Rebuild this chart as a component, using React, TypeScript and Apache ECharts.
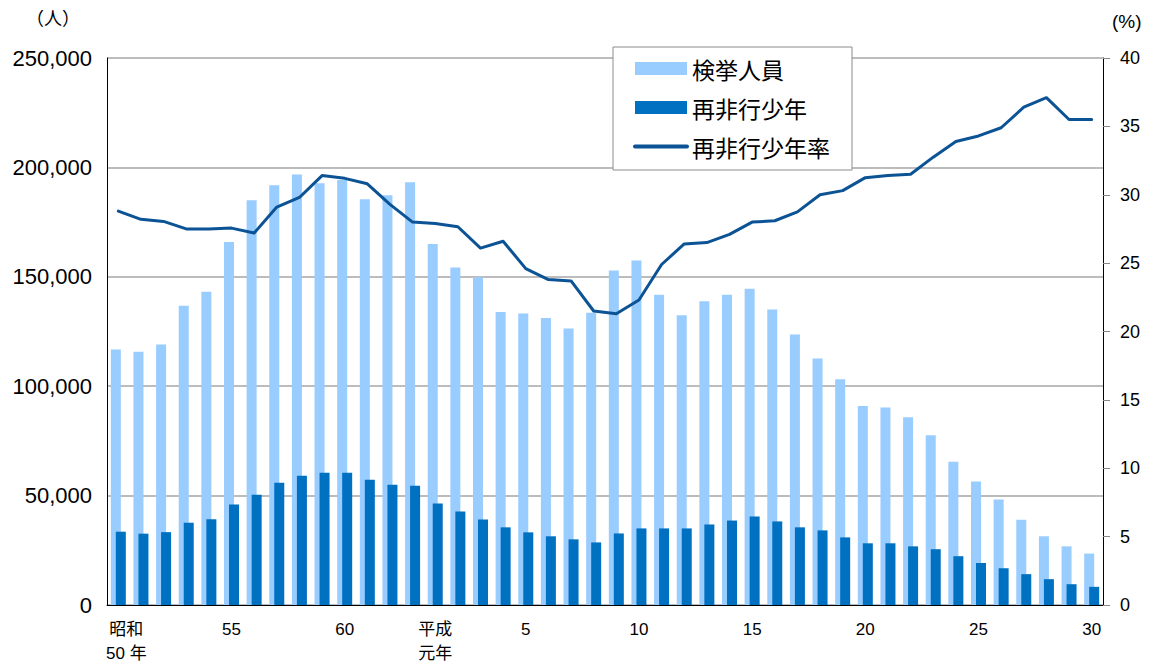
import React, { useEffect, useRef } from "react";
import * as echarts from "echarts";

const categories = [
  "S50", "S51", "S52", "S53", "S54", "S55", "S56", "S57", "S58", "S59", "S60", "S61", "S62", "S63",
  "H1", "H2", "H3", "H4", "H5", "H6", "H7", "H8", "H9", "H10", "H11", "H12", "H13", "H14", "H15",
  "H16", "H17", "H18", "H19", "H20", "H21", "H22", "H23", "H24", "H25", "H26", "H27", "H28", "H29", "H30",
];

const xLabels = [
  "昭和\n50 年", "", "", "", "", "55", "", "", "", "", "60", "", "", "",
  "平成\n元年", "", "", "", "5", "", "", "", "", "10", "", "", "", "", "15",
  "", "", "", "", "20", "", "", "", "", "25", "", "", "", "", "30",
];

const arrested = [
  116800, 115700, 119100, 136800, 143200, 165900, 185000, 191800, 196800, 192700,
  194200, 185400, 187300, 193200, 165000, 154200, 149800, 133900, 133200, 131200,
  126400, 133600, 152900, 157400, 141800, 132400, 138800, 141800, 144500, 135000,
  123600, 112700, 103200, 90900, 90300, 85800, 77600, 65500, 56400, 48200,
  39000, 31400, 26800, 23500,
];

const repeatOffenders = [
  33500, 32600, 33300, 37600, 39200, 45900, 50400, 55900, 59100, 60400,
  60400, 57300, 55000, 54500, 46400, 42700, 39100, 35500, 33200, 31400,
  30000, 28600, 32700, 35000, 35000, 35000, 36800, 38600, 40500, 38200,
  35500, 34100, 30900, 28200, 28200, 26800, 25500, 22300, 19200, 16800,
  14100, 11800, 9500, 8300,
];

const repeatRate = [
  28.8, 28.2, 28.05, 27.5, 27.5, 27.56, 27.2, 29.1, 29.8, 31.4,
  31.2, 30.8, 29.3, 28.0, 27.9, 27.66, 26.1, 26.6, 24.6, 23.8,
  23.7, 21.5, 21.3, 22.3, 24.9, 26.4, 26.5, 27.1, 28.0, 28.1,
  28.75, 30.0, 30.3, 31.25, 31.4, 31.5, 32.75, 33.9, 34.3, 34.9,
  36.4, 37.1, 35.5, 35.5,
];

const seriesNames = ["検挙人員", "再非行少年", "再非行少年率"];

const FONT = "'Liberation Sans', 'Noto Sans CJK JP', sans-serif";
const CJK = "'Noto Sans CJK JP', 'Liberation Sans', sans-serif";

export default function App() {
  const ref = useRef<HTMLDivElement>(null);

  useEffect(() => {
    if (!ref.current) return;
    const chart = echarts.init(ref.current, null, { renderer: "svg" });
    const option: any = {
      animation: false,
      textStyle: { fontFamily: FONT },
      grid: { left: 107, right: 50, top: 58, bottom: 57, containLabel: false },
      legend: {
        orient: "vertical",
        left: 613,
        top: 47,
        backgroundColor: "#fff",
        borderColor: "#8c8c8c",
        borderWidth: 1,
        borderRadius: 0,
        padding: [10, 22, 12, 20],
        itemWidth: 52,
        itemHeight: 13,
        itemGap: 16,
        textStyle: { fontSize: 23, color: "#000", fontFamily: CJK },
        data: [
          { name: seriesNames[0], icon: "rect" },
          { name: seriesNames[1], icon: "rect" },
          {
            name: seriesNames[2],
            itemStyle: { color: "rgba(0,0,0,0)", borderWidth: 0, opacity: 0 },
            lineStyle: { width: 4, color: "#0b5394" },
          },
        ],
      },
      xAxis: {
        type: "category",
        data: categories.map((c, i) =>
          i === 0 ? { value: c, textStyle: { padding: [0, 0, 0, 16] } } : c
        ),
        axisLine: { lineStyle: { color: "#000", width: 1 } },
        axisTick: { show: false },
        axisLabel: {
          interval: 0,
          formatter: (_v: string, i: number) => xLabels[i],
          fontSize: 17,
          color: "#000",
          margin: 12,
          lineHeight: 24,
          fontFamily: FONT,
        },
      },
      yAxis: [
        {
          type: "value",
          min: 0,
          max: 250000,
          interval: 50000,
          axisLine: { show: true, lineStyle: { color: "#000", width: 1 } },
          axisTick: { show: false },
          axisLabel: {
            fontSize: 22,
            color: "#000",
            margin: 15,
            formatter: (v: number) => v.toLocaleString("en-US"),
          },
          splitLine: { lineStyle: { color: "#a6a6a6", width: 1.5 } },
        },
        {
          type: "value",
          min: 0,
          max: 40,
          interval: 5,
          position: "right",
          axisLine: { show: true, lineStyle: { color: "#000", width: 1 } },
          axisTick: { show: true, length: 7, lineStyle: { color: "#888" } },
          axisLabel: { fontSize: 18, color: "#000", margin: 17 },
          splitLine: { show: false },
        },
      ],
      series: [
        {
          name: seriesNames[0],
          type: "bar",
          data: arrested,
          barWidth: 10,
          barGap: "-50%",
          itemStyle: { color: "#99ccff" },
        },
        {
          name: seriesNames[1],
          type: "bar",
          data: repeatOffenders,
          barWidth: 10,
          barGap: "-50%",
          itemStyle: { color: "#0070c0" },
        },
        {
          name: seriesNames[2],
          type: "line",
          yAxisIndex: 1,
          data: repeatRate,
          symbol: "none",
          z: 5,
          lineStyle: { color: "#0b5394", width: 3, join: "round", cap: "round" },
          itemStyle: { color: "#0b5394" },
        },
      ],
      graphic: [
        {
          type: "text",
          left: 26,
          top: 8,
          style: { text: "（人）", fontSize: 18, fill: "#000", fontFamily: CJK },
        },
        {
          type: "text",
          left: 1112,
          top: 12,
          style: { text: "(%)", fontSize: 19, fill: "#000", fontFamily: FONT },
        },
      ],
    };
    chart.setOption(option);
    return () => chart.dispose();
  }, []);

  return (
    <div
      ref={ref}
      style={{ position: "fixed", left: 0, top: 0, width: 1153, height: 665, background: "#fff" }}
    />
  );
}
